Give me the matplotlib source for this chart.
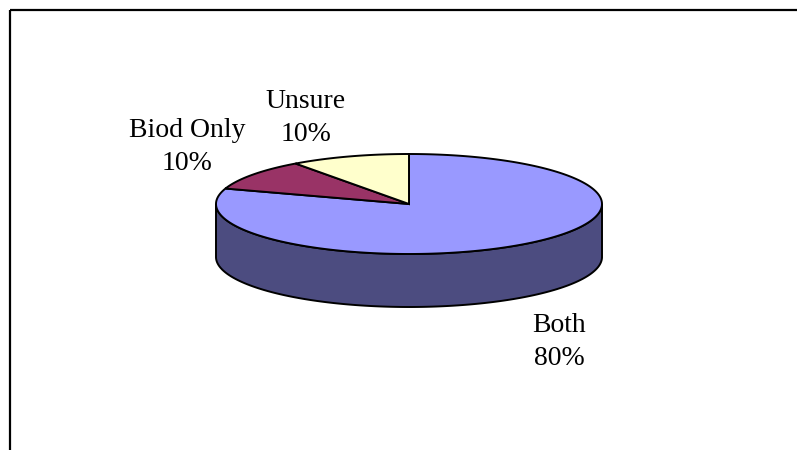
import numpy as np
import matplotlib
matplotlib.use("Agg")
import matplotlib.pyplot as plt
from matplotlib.patches import Polygon, Rectangle

labels = ["Both", "Biod Only", "Unsure"]
values = [80, 10, 10]
top_colors = ["#9999FF", "#993366", "#FFFFCC"]
side_colors = ["#4C4C80", "#4D1A33", "#808066"]
label_pos = [(559, 342), (187, 147), (306, 118)]

plt.rcParams['font.family'] = ['Liberation Serif', 'DejaVu Serif']

fig = plt.figure(figsize=(7.97, 4.5), dpi=100)
ax = fig.add_axes([0, 0, 1, 1])
ax.set_xlim(0, 797)
ax.set_ylim(450, 0)
ax.axis('off')

# chart frame (cut off at right/bottom like the original)
ax.add_patch(Rectangle((10, 10), 800, 460, fill=False, ec='black', lw=1.6))

cx, cy, rx, ry, depth = 409, 204, 193, 50, 53


def pt(a):
    return cx + rx * np.cos(a), cy - ry * np.sin(a)


# slice angles: start at 12 o'clock, clockwise
fracs = np.array(values) / sum(values)
starts = np.pi / 2 - 2 * np.pi * np.concatenate([[0], np.cumsum(fracs)[:-1]])
ends = starts - 2 * np.pi * fracs

# side walls (front half only)
for s, e, col in zip(starts, ends, side_colors):
    a = np.linspace(e, s, 400)
    a = np.mod(a, 2 * np.pi)
    front = a[(a >= np.pi) & (a <= 2 * np.pi)]
    if len(front) < 2:
        continue
    front = np.sort(front)
    xs, ys = pt(front)
    poly = list(zip(xs, ys)) + list(zip(xs[::-1], ys[::-1] + depth))
    ax.add_patch(Polygon(poly, closed=True, fc=col, ec='black', lw=1.4, zorder=2))

# top faces
for s, e, col in zip(starts, ends, top_colors):
    a = np.linspace(s, e, 300)
    xs, ys = pt(a)
    poly = [(cx, cy)] + list(zip(xs, ys))
    ax.add_patch(Polygon(poly, closed=True, fc=col, ec='black', lw=1.4, zorder=3))

for lab, v, (x, y) in zip(labels, values, label_pos):
    ax.text(x, y, f"{lab}\n{v}%", ha='center', va='center', fontsize=20,
            linespacing=1.45, color='black')

fig.savefig("out.png", dpi=100)
